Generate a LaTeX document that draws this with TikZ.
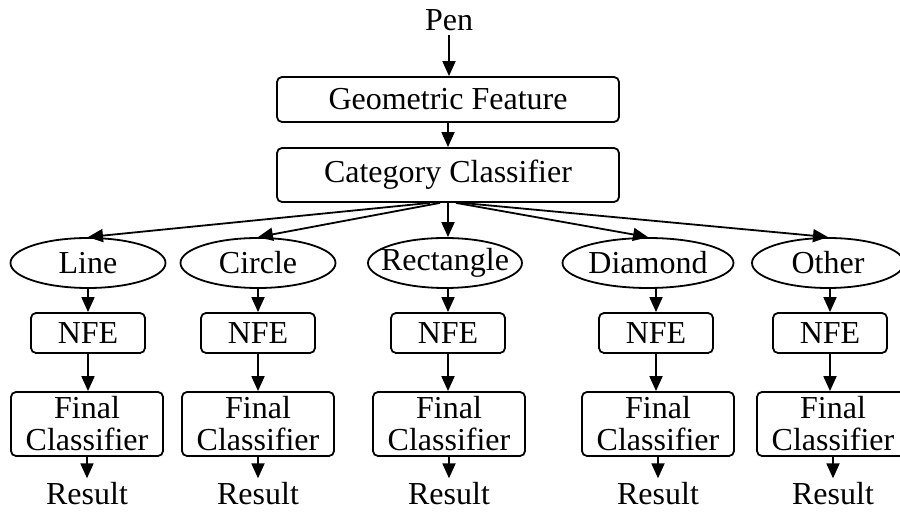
\documentclass[tikz,border=0pt]{standalone}
\usepackage{fontspec}
\setmainfont{Liberation Serif}
\usetikzlibrary{arrows.meta,shapes.geometric,calc}
\begin{document}
\begin{tikzpicture}[x=0.5pt,y=-0.5pt,
  every node/.style={font=\fontsize{16pt}{16pt}\selectfont, inner sep=0pt},
  rbox/.style={draw, rounded corners=2.5pt, line width=0.9pt, align=center},
  oval/.style={draw, ellipse, line width=0.9pt, minimum height=25pt},
  txt/.style={inner sep=2pt},
  arr/.style={-{Triangle[length=7.5pt,width=6.5pt]}, line width=0.9pt}]
\useasboundingbox (0,0) rectangle (900,512);
\clip (0,0) rectangle (900,512);

\node[txt] (pen) at (449,20) {Pen};
\node[rbox, minimum width=171pt, minimum height=22.5pt] (geo) at (448,99.5) {Geometric Feature};
\node[rbox, minimum width=171pt, minimum height=27pt] (cat) at (448,175) {Category Classifier};

% ellipses
\node[oval, minimum width=77.5pt] (e1) at (88,263) {\makebox[0pt]{Line}};
\node[oval, minimum width=77.5pt] (e2) at (258,263) {\makebox[0pt]{Circle}};
\node[oval, minimum width=77pt] (e3) at (445,263) {\makebox[0pt]{Rectangle}};
\node[oval, minimum width=85.5pt] (e4) at (648,263) {\makebox[0pt]{Diamond}};
\node[oval, minimum width=76pt] (e5) at (828,263) {\makebox[0pt]{Other}};

% NFE
\foreach \i/\x in {1/88,2/258,3/448,4/656,5/830}{
  \node[rbox, minimum width=57pt, minimum height=20pt] (n\i) at (\x,333) {NFE};
}
% Final classifier
\foreach \i/\x in {1/87,2/258,3/449,4/658,5/833}{
  \node[rbox, minimum width=76pt, minimum height=32pt] (f\i) at (\x,424) {Final\\Classifier};
  \node[txt] (r\i) at (\x,494) {Result};
}

\draw[arr] (pen.south) -- (pen.south |- geo.north);
\draw[arr] (geo.south) -- (cat.north);

\draw[arr] ($(cat.south)+(-18,0)$) -- (e1.north);
\draw[arr] ($(cat.south)+(-8,0)$) -- (e2.north);
\draw[arr] (cat.south) -- (cat.south |- e3.north);
\draw[arr] ($(cat.south)+(8,0)$) -- (e4.north);
\draw[arr] ($(cat.south)+(14,0)$) -- (e5.north);

\foreach \i in {1,...,5}{
  \draw[arr] (n\i.north |- e\i.south) -- (n\i.north);
  \draw[arr] (n\i.south) -- (n\i.south |- f\i.north);
  \draw[arr] (f\i.south) -- (r\i.north);
}
\end{tikzpicture}
\end{document}
